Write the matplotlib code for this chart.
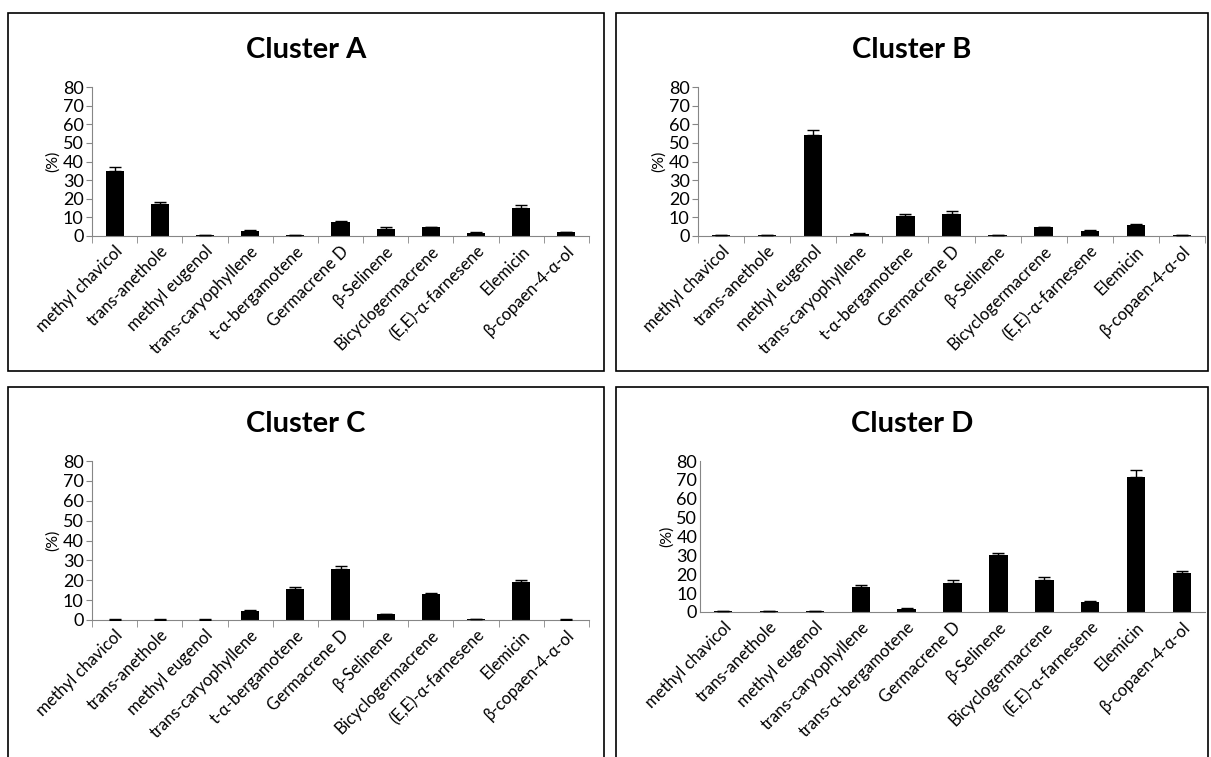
import numpy as np
import matplotlib.pyplot as plt
from matplotlib.patches import Rectangle

plt.rcParams['font.family'] = ['Lato', 'DejaVu Sans']

compounds = ['methyl chavicol', 'trans-anethole', 'methyl eugenol', 'trans-caryophyllene',
             't-α-bergamotene', 'Germacrene D', 'β-Selinene', 'Bicyclogermacrene',
             '(E,E)-α-farnesene', 'Elemicin', 'β-copaen-4-α-ol']
compounds_d = ['methyl chavicol', 'trans-anethole', 'methyl eugenol', 'trans-caryophyllene',
               'trans-α-bergamotene', 'Germacrene D', 'β-Selinene', 'Bicyclogermacrene',
               '(E,E)-α-farnesene', 'Elemicin', 'β-copaen-4-α-ol']

# mean (%) and upper error
a_mean = [35, 17, 0.3, 2.5, 0.3, 7.5, 4.0, 4.8, 1.8, 15, 2.2]
a_err = [2.0, 1.5, 0.1, 0.5, 0.1, 0.7, 0.7, 0.3, 0.2, 1.5, 0.2]
b_mean = [0.3, 0.3, 54, 1.3, 11, 12, 0.3, 4.7, 2.5, 5.8, 0.3]
b_err = [0.1, 0.1, 3.0, 0.2, 1.0, 1.5, 0.1, 0.3, 0.6, 0.8, 0.1]
c_mean = [0.2, 0.2, 0.2, 4.5, 15.5, 25.5, 3.0, 13, 0.5, 19, 0.2]
c_err = [0.1, 0.1, 0.1, 0.5, 1.2, 1.5, 0.2, 0.8, 0.2, 1.2, 0.1]
d_mean = [0.3, 0.3, 0.3, 13, 1.8, 15.5, 30, 17, 5.5, 71.5, 20.5]
d_err = [0.1, 0.1, 0.1, 1.2, 0.2, 1.2, 1.5, 1.3, 0.5, 3.5, 1.3]

W, H = 1211, 757
fig = plt.figure(figsize=(W / 100, H / 100), dpi=100)

def px(x0, y0, x1, y1):
    # pixel box -> figure fraction [left, bottom, width, height]
    return [x0 / W, 1 - y1 / H, (x1 - x0) / W, (y1 - y0) / H]

panels = [
    ('Cluster A', a_mean, a_err, compounds, px(92, 87, 589, 236), (8, 13, 604, 371), True),
    ('Cluster B', b_mean, b_err, compounds, px(698, 87, 1205, 236), (616, 13, 1208, 371), True),
    ('Cluster C', c_mean, c_err, compounds, px(92, 461, 589, 620), (8, 387, 604, 760), True),
    ('Cluster D', d_mean, d_err, compounds_d, px(700, 461, 1205, 612), (616, 387, 1208, 760), False),
]

axis_col = '#868686'
for title, mean, err, labels, rect, box, ticks in panels:
    # panel frame
    fig.add_artist(Rectangle((box[0] / W, 1 - box[3] / H), (box[2] - box[0]) / W,
                             (box[3] - box[1]) / H, transform=fig.transFigure,
                             fill=False, edgecolor='black', linewidth=1.2))
    cx = (box[0] + box[2]) / 2 / W
    fig.text(cx, 1 - (box[1] + 37) / H, title, ha='center', va='center',
             fontsize=21, fontweight='bold')

    ax = fig.add_axes(rect)
    x = np.arange(len(mean))
    ax.bar(x, mean, width=0.4, color='black', zorder=2)
    ax.errorbar(x, mean, yerr=[np.zeros(len(err)), err], fmt='none', ecolor='black',
                elinewidth=1.0, capsize=4, capthick=1.0, zorder=3)
    ax.set_xlim(-0.5, len(mean) - 0.5)
    ax.set_ylim(0, 80)
    ax.set_yticks(range(0, 81, 10))
    ax.set_xticks(x)
    ax.set_xticklabels(labels, rotation=45, ha='right', rotation_mode='anchor', fontsize=12)
    ax.tick_params(axis='x', length=0, pad=5)
    ax.tick_params(axis='y', labelsize=13, color=axis_col, length=4, pad=2)
    if ticks:
        ax.set_xticks(np.arange(-0.5, len(mean)), minor=True)
        ax.tick_params(axis='x', which='minor', length=5, color=axis_col)
    else:
        ax.tick_params(axis='y', length=0)
    ax.set_ylabel('(%)', fontsize=11.5, labelpad=2)
    for s in ['top', 'right']:
        ax.spines[s].set_visible(False)
    for s in ['left', 'bottom']:
        ax.spines[s].set_color(axis_col)

fig.savefig('out.png', dpi=100)
